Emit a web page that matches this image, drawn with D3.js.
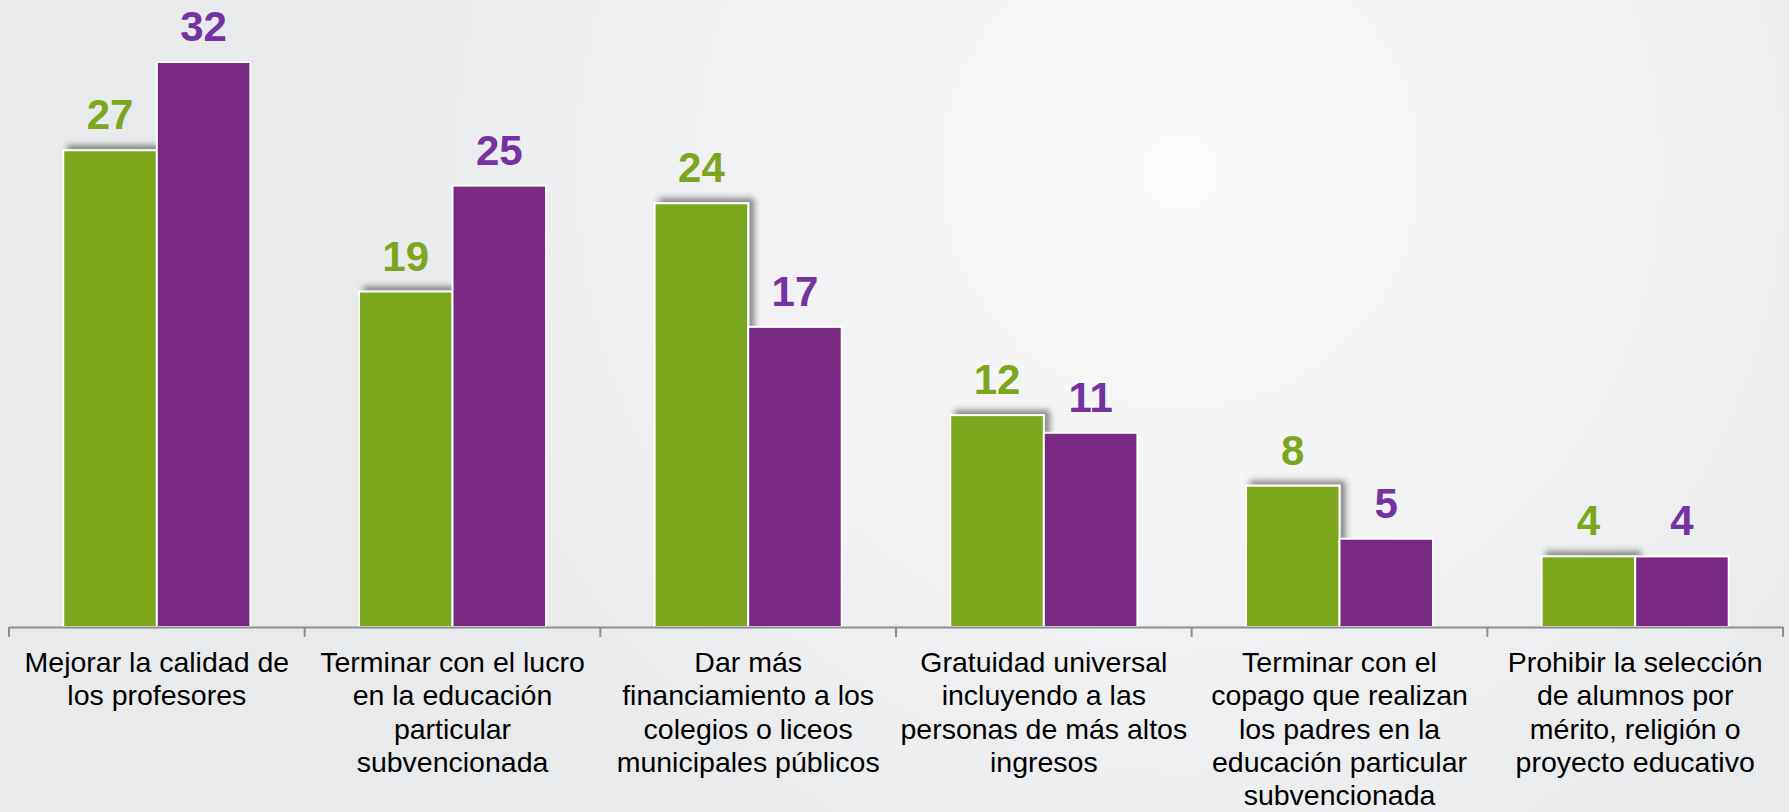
<!DOCTYPE html>
<html>
<head>
<meta charset="utf-8">
<script src="https://cdn.jsdelivr.net/npm/d3@7"></script>
<style>
  html, body { margin:0; padding:0; background:#eaebed; }
  svg { display:block; }
</style>
</head>
<body>
<svg></svg>
<script>
// categories (each label already split into its lines)
var categories = [
  ["Mejorar la calidad de", "los profesores"],
  ["Terminar con el lucro", "en la educación", "particular", "subvencionada"],
  ["Dar más", "financiamiento a los", "colegios o liceos", "municipales públicos"],
  ["Gratuidad universal", "incluyendo a las", "personas de más altos", "ingresos"],
  ["Terminar con el", "copago que realizan", "los padres en la", "educación particular", "subvencionada"],
  ["Prohibir la selección", "de alumnos por", "mérito, religión o", "proyecto educativo"]
];
var seriesNames = ["serieVerde", "serieMorada"];
var greenValues = [27, 19, 24, 12, 8, 4];
var purpleValues = [32, 25, 17, 11, 5, 4];

var width = 1789;
var height = 812;
var axisY = 627;

var keys = categories.map(function(c){ return c.join(" "); });
var data = keys.map(function(k, i){
  return {key:k, lines:categories[i], values:[
    {name:seriesNames[0], value:greenValues[i]},
    {name:seriesNames[1], value:purpleValues[i]}
  ]};
});

var barColor = {serieVerde:"#7ba61e", serieMorada:"#7a2982"};
var textColor = {serieVerde:"#7ba61e", serieMorada:"#7433a0"};

var x = d3.scaleBand()
  .domain(keys)
  .range([9, 1783])
  .paddingInner(0)
  .paddingOuter(0);

var xInner = d3.scaleBand()
  .domain(seriesNames)
  .range([0, x.bandwidth()])
  .paddingInner(0)
  .paddingOuter(0.58);

var y = d3.scaleLinear()
  .domain([0, 32])
  .range([axisY, 62]);

var svg = d3.select("svg")
  .attr("width", width)
  .attr("height", height);

var defs = svg.append("defs");
var grad = defs.append("radialGradient")
  .attr("id", "bg")
  .attr("gradientUnits", "userSpaceOnUse")
  .attr("cx", 1180).attr("cy", 170).attr("r", 820);
grad.append("stop").attr("offset", "0%").attr("stop-color", "#fbfbfb");
grad.append("stop").attr("offset", "25%").attr("stop-color", "#f6f6f7");
grad.append("stop").attr("offset", "100%").attr("stop-color", "#e9eaec");

var shadow = defs.append("filter")
  .attr("id", "shadow")
  .attr("x", "-20%").attr("y", "-20%")
  .attr("width", "140%").attr("height", "140%");
shadow.append("feDropShadow")
  .attr("dx", 5).attr("dy", -4)
  .attr("stdDeviation", 3)
  .attr("flood-color", "#000")
  .attr("flood-opacity", 0.45);

svg.append("rect")
  .attr("width", width).attr("height", height)
  .attr("fill", "url(#bg)");

var groups = svg.selectAll(".group")
  .data(data)
  .enter().append("g")
  .attr("class", "group")
  .attr("transform", function(d){ return "translate(" + x(d.key) + ",0)"; });

groups.selectAll("rect")
  .data(function(d){ return d.values; })
  .enter().append("rect")
  .attr("x", function(d){ return xInner(d.name); })
  .attr("y", function(d){ return y(d.value); })
  .attr("width", xInner.bandwidth())
  .attr("height", function(d){ return axisY - y(d.value); })
  .attr("fill", function(d){ return barColor[d.name]; })
  .attr("stroke", "#ffffff")
  .attr("stroke-width", 2)
  .attr("filter", function(d){ return d.name == "serieVerde" ? "url(#shadow)" : null; });

groups.selectAll(".val")
  .data(function(d){ return d.values; })
  .enter().append("text")
  .attr("class", "val")
  .attr("x", function(d){ return xInner(d.name) + xInner.bandwidth() / 2; })
  .attr("y", function(d){ return y(d.value) - 21; })
  .attr("text-anchor", "middle")
  .attr("font-family", "Liberation Sans, Arial, sans-serif")
  .attr("font-weight", "bold")
  .attr("font-size", "42px")
  .attr("fill", function(d){ return textColor[d.name]; })
  .text(function(d){ return d.value; });

// axis line and category boundary ticks
var xAxis = d3.axisBottom(x).tickSize(0).tickFormat("");
var axisG = svg.append("g")
  .attr("transform", "translate(0," + axisY + ")")
  .call(xAxis);
axisG.select(".domain")
  .attr("stroke", "#8e8e8e")
  .attr("stroke-width", 2);

var bounds = keys.map(function(k){ return x(k); }).concat([x(keys[keys.length - 1]) + x.bandwidth()]);
axisG.selectAll(".bound")
  .data(bounds)
  .enter().append("line")
  .attr("class", "bound")
  .attr("x1", function(d){ return d; })
  .attr("x2", function(d){ return d; })
  .attr("y1", 0).attr("y2", 10)
  .attr("stroke", "#8e8e8e")
  .attr("stroke-width", 2);

var labels = svg.selectAll(".cat")
  .data(data)
  .enter().append("text")
  .attr("class", "cat")
  .attr("text-anchor", "middle")
  .attr("font-family", "Liberation Sans, Arial, sans-serif")
  .attr("font-size", "28.5px")
  .attr("fill", "#000");

labels.selectAll("tspan")
  .data(function(d){ return d.lines.map(function(l){ return {line:l, key:d.key}; }); })
  .enter().append("tspan")
  .attr("x", function(d){ return x(d.key) + x.bandwidth() / 2; })
  .attr("y", function(d, i){ return 672 + i * 33.3; })
  .text(function(d){ return d.line; });
</script>
</body>
</html>
